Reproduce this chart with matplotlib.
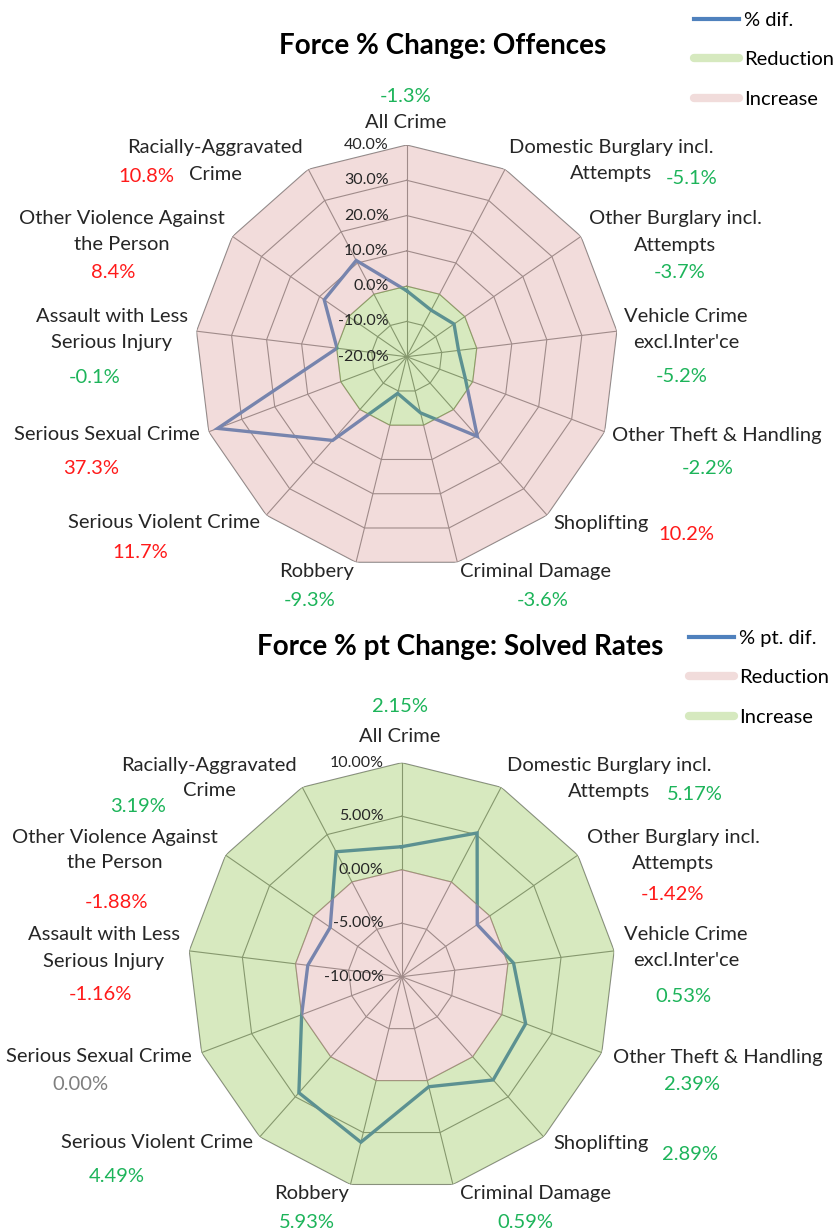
import numpy as np
import matplotlib
matplotlib.use("Agg")
import matplotlib.pyplot as plt
from matplotlib.lines import Line2D

plt.rcParams['font.family'] = ['Lato', 'DejaVu Sans']

# ---- data ----
categories = ["All Crime", "Domestic Burglary incl.\nAttempts", "Other Burglary incl.\nAttempts",
              "Vehicle Crime\nexcl.Inter'ce", "Other Theft & Handling", "Shoplifting",
              "Criminal Damage", "Robbery", "Serious Violent Crime", "Serious Sexual Crime",
              "Assault with Less\nSerious Injury", "Other Violence Against\nthe Person",
              "Racially-Aggravated\nCrime"]
offences_pct = [-1.3, -5.1, -3.7, -5.2, -2.2, 10.2, -3.6, -9.3, 11.7, 37.3, -0.1, 8.4, 10.8]
solved_pt = [2.15, 5.17, -1.42, 0.53, 2.39, 2.89, 0.59, 5.93, 4.49, 0.00, -1.16, -1.88, 3.19]
offences_ticks = [-20, -10, 0, 10, 20, 30, 40]
solved_ticks = [-10, -5, 0, 5, 10]

W, H = 835, 1231
LINE = '#4F81BD'
PINK = '#d48e8a'
GREEN = '#7db92d'
GRID = '#8a8a8a'
TXT = '#262626'
RED = '#ff1a1a'
GRN = '#1db45a'
FS = 14.5
LINE_GAP = 26  # px between lines of a wrapped label

# label centres in pixels (layout only)
top_cat_pos = [(406, 122), (611, 161), (675, 232), (686, 330), (717, 436), (601, 523), (536, 572),
               (317, 572), (164, 523), (107, 435), (112, 330), (122, 231), (215, 161)]
top_val_pos = [(406, 96), (692, 178), (680, 273), (682, 376), (708, 468), (686, 535), (543, 600),
               (310, 600), (140, 552), (91, 468), (95, 377), (113, 272), (146, 177)]
bot_cat_pos = [(400, 737), (609, 778), (673, 850), (686, 948), (718, 1057), (601, 1143), (535, 1193),
               (312, 1193), (157, 1143), (99, 1056), (104, 948), (115, 850), (209, 778)]
bot_val_pos = [(400, 707), (695, 794), (673, 895), (683, 997), (692, 1085), (690, 1154), (525, 1223),
               (307, 1223), (117, 1177), (80, 1085), (100, 995), (116, 902), (138, 807)]


def px(x, y):
    return x / W, 1 - y / H


def put_label(text, x, y):
    lines = text.split('\n')
    y0 = y - LINE_GAP * (len(lines) - 1) / 2
    for k, ln in enumerate(lines):
        fig.text(*px(x, y0 + k * LINE_GAP), ln, ha='center', va='center', fontsize=FS, color=TXT)


def radar(rect, values, ticks, inner_color, outer_color, fmt):
    ax = fig.add_axes(rect, projection='polar')
    n = len(values)
    theta = np.linspace(0, 2 * np.pi, n, endpoint=False)
    tc = np.append(theta, theta[0])
    ax.set_theta_zero_location('N')
    ax.set_theta_direction(-1)
    ax.set_ylim(ticks[0], ticks[-1])
    ax.grid(False)
    ax.set_xticks([])
    ax.set_yticks([])
    ax.spines['polar'].set_visible(False)
    ax.patch.set_alpha(0)

    # grid rings + spokes
    for t in ticks[1:]:
        ax.plot(tc, np.full(n + 1, t), color=GRID, lw=0.8, zorder=1)
    for th in theta:
        ax.plot([th, th], [ticks[0], ticks[-1]], color=GRID, lw=0.8, zorder=1)

    vals = np.append(values, values[0])
    ax.plot(tc, vals, color=LINE, lw=2.4, zorder=2, solid_joinstyle='miter')

    # inner (to 0) and outer ring fills
    zero = np.zeros(n + 1)
    top = np.full(n + 1, ticks[-1])
    ax.fill(tc, zero, color=inner_color, alpha=0.3, lw=0.8, zorder=3)
    ring_t = np.concatenate([tc, tc[::-1]])
    ring_r = np.concatenate([top, zero[::-1]])
    ax.fill(ring_t, ring_r, color=outer_color, alpha=0.3, lw=0, zorder=3)

    for t in ticks:
        ax.annotate(f"{t:.{fmt}f}%", xy=(0, t), xytext=(-18, 0),
                    textcoords='offset pixels', ha='right', va='center',
                    fontsize=11.5, color=TXT, zorder=5)
    return ax


fig = plt.figure(figsize=(W / 100, H / 100), dpi=100)

# top chart: centre (406.7, 356.7), r 211.7
cx, cy, r = 406.7, 356.7, 211.7
radar([(cx - r) / W, 1 - (cy + r) / H, 2 * r / W, 2 * r / H], offences_pct, offences_ticks,
      GREEN, PINK, 1)
# bottom chart: centre (401.7, 976.7), r 214
cx, cy, r = 401.7, 976.7, 214
radar([(cx - r) / W, 1 - (cy + r) / H, 2 * r / W, 2 * r / H], solved_pt, solved_ticks,
      PINK, GREEN, 2)

for i, cat in enumerate(categories):
    put_label(cat, *top_cat_pos[i])
    v = offences_pct[i]
    fig.text(*px(*top_val_pos[i]), f"{v:.1f}%", ha='center', va='center', fontsize=FS,
             color=GRN if v < 0 else RED)
    put_label(cat, *bot_cat_pos[i])
    v = solved_pt[i]
    c = '#7f7f7f' if v == 0 else (GRN if v > 0 else RED)
    fig.text(*px(*bot_val_pos[i]), f"{v:.2f}%", ha='center', va='center', fontsize=FS, color=c)

fig.text(*px(443, 46), "Force % Change: Offences", ha='center', va='center',
         fontsize=20, fontweight='bold', color='black')
fig.text(*px(460, 647), "Force % pt Change: Solved Rates", ha='center', va='center',
         fontsize=20, fontweight='bold', color='black')

# legends
green_disp = '#d6e9bf'
pink_disp = '#f1dcdb'
leg_kw = dict(loc='upper left', frameon=False, fontsize=FS, handlelength=2.25, handletextpad=0.25,
              labelspacing=1.1, borderaxespad=0, borderpad=0)
h1 = [Line2D([], [], color=LINE, lw=3), Line2D([], [], color=green_disp, lw=6, solid_capstyle='round'),
      Line2D([], [], color=pink_disp, lw=6, solid_capstyle='round')]
fig.legend(h1, ['% dif.', 'Reduction', 'Increase'], bbox_to_anchor=px(694, 12), **leg_kw)
h2 = [Line2D([], [], color=LINE, lw=3), Line2D([], [], color=pink_disp, lw=6, solid_capstyle='round'),
      Line2D([], [], color=green_disp, lw=6, solid_capstyle='round')]
fig.legend(h2, ['% pt. dif.', 'Reduction', 'Increase'], bbox_to_anchor=px(689, 630), **leg_kw)

fig.savefig('out.png', dpi=100)
